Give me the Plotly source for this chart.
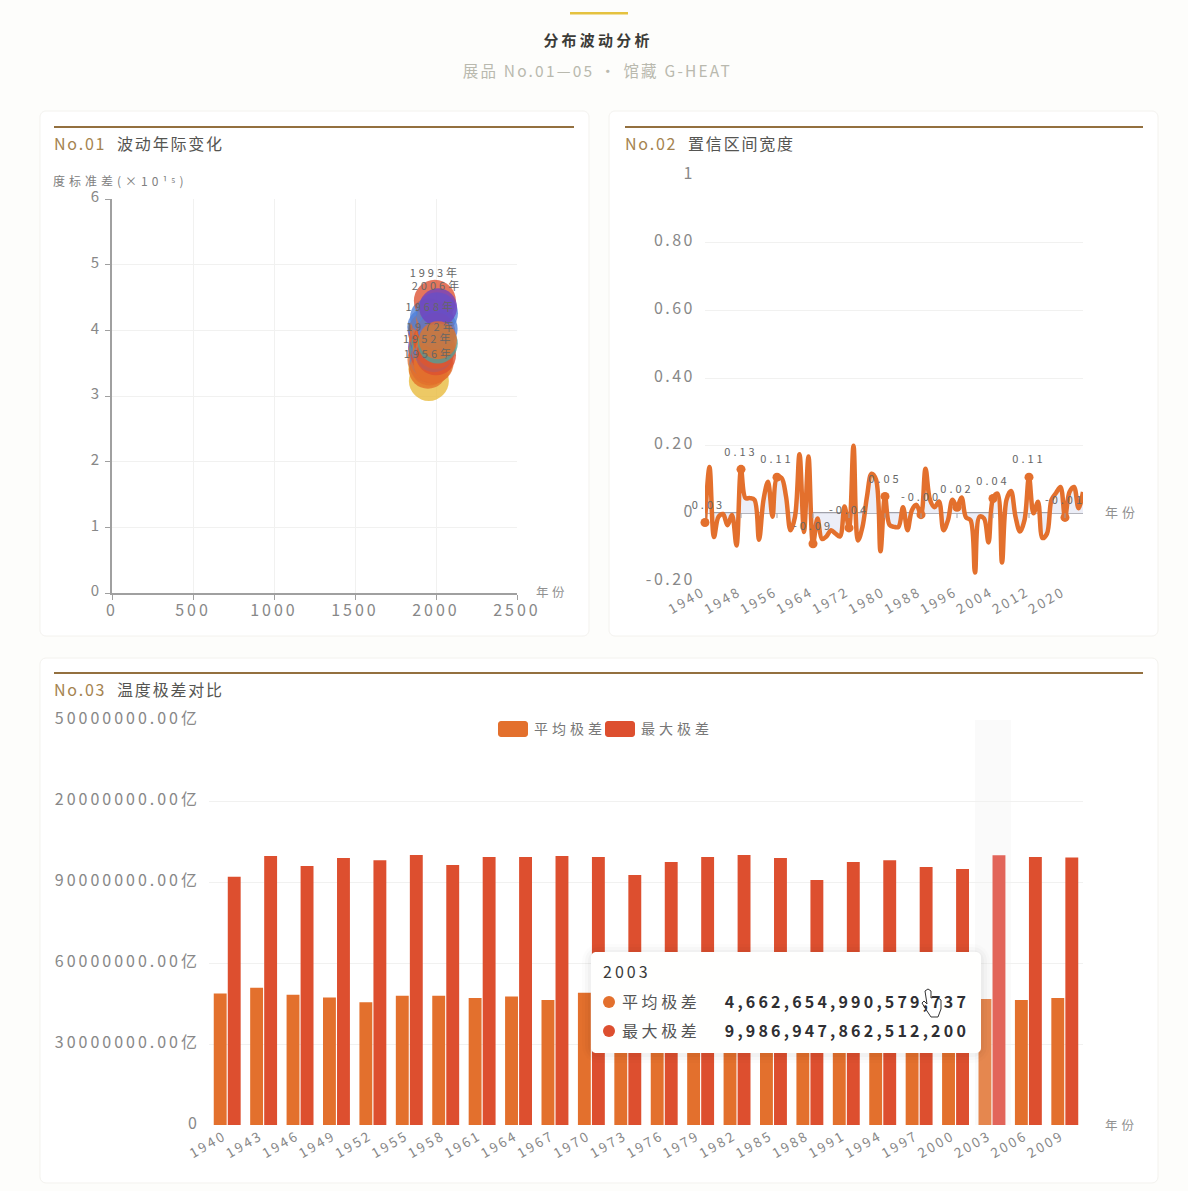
import json
import plotly.graph_objects as go

W, H = 1188, 1191
FONT = "Noto Sans CJK SC"

# ---------- No.01 bubbles (draw order) ----------
bubble_years = [1941, 1943, 1945, 1940, 1947, 1956, 1944, 1946, 1948, 1952, 1949, 1951, 1954, 1950, 1953, 1958,
                1960, 1962, 1964, 1955, 1966, 1968, 1970, 1957, 1972, 1975, 1978, 1980, 1982, 1985, 1988, 1990,
                1993, 1995, 2006, 2002, 1998, 2000, 2010, 2013, 2011, 2012]
bubble_std = [3.55, 3.98, 3.75, 4.05, 3.42, 3.23, 3.85, 3.68, 3.95, 3.49, 4.02, 3.72, 3.5, 3.4, 3.82, 3.55,
              3.45, 3.62, 3.7, 3.9, 3.8, 3.97, 3.95, 4.2, 3.67, 3.85, 3.6, 3.55, 3.48, 3.5, 3.65, 3.92,
              4.45, 4.15, 4.26, 3.98, 3.72, 3.62, 4.02, 4.35, 3.8, 3.85]
bubble_sizes = [38, 38, 38, 38, 38, 40, 36, 38, 36, 38, 36, 38, 38, 38, 36, 38,
                38, 38, 38, 38, 38, 38, 38, 38, 38, 38, 38, 38, 38, 40, 38, 38,
                42, 38, 42, 38, 40, 40, 40, 38, 40, 38]
OR, RD, YL, BL, PU, TE = "#E3702D", "#DD4F2F", "#E8BA3A", "#4F80D9", "#7040C0", "#4FA09A"
bubble_colors = [OR, RD, PU, BL, YL, YL, OR, RD, PU, BL, OR, TE, OR, OR, PU, BL,
                 OR, RD, BL, OR, TE, BL, OR, BL, OR, RD, BL, OR, OR, OR, BL, OR,
                 RD, OR, BL, RD, OR, RD, BL, PU, TE, OR]
bubble_labelled = [1952, 1956, 1968, 1972, 1993, 2006]

x1_ticks = [0, 500, 1000, 1500, 2000, 2500]
y1_ticks = [0, 1, 2, 3, 4, 5, 6]

# ---------- No.02 line ----------
years2 = list(range(1940, 2025))
width_vals = [-0.027, 0.137, -0.07, -0.01, -0.002, -0.035, -0.005, -0.095, 0.13, 0.045,
              0.045, 0.04, -0.078, 0.04, 0.093, -0.01, 0.107, 0.105, 0.05, -0.05,
              -0.01, 0.175, -0.055, 0.168, -0.09, -0.015, -0.076, -0.068, -0.05, -0.06,
              -0.068, 0.02, -0.043, 0.2, -0.08, -0.04, 0.05, 0.117, 0.1, -0.112,
              0.05, -0.034, -0.04, -0.04, 0.018, -0.05, 0.01, 0.025, -0.004, 0.132,
              0.04, 0.018, 0.035, -0.05, -0.02, 0.04, 0.018, 0.047, -0.012, -0.02,
              -0.175, -0.01, -0.015, -0.086, 0.044, 0.058, -0.145, 0.04, 0.066, -0.01,
              -0.054, -0.02, 0.107, 0.0, 0.034, -0.073, -0.06, 0.04, 0.06, 0.078,
              -0.012, 0.063, 0.078, 0.015, 0.063]
label_years2 = list(range(1940, 2021, 8))
y2_ticks = [-0.2, 0, 0.2, 0.4, 0.6, 0.8, 1]
y2_labels = ["-0.20", "0", "0.20", "0.40", "0.60", "0.80", "1"]

# ---------- No.03 bars (in 亿) ----------
years3 = [str(y) for y in range(1940, 2010, 3)]
avg_range = [48.7, 50.8, 48.2, 47.2, 45.5, 47.9, 47.9, 47.0, 47.6, 46.3, 49.0, 47.0,
             47.5, 47.5, 48.0, 47.5, 47.0, 46.5, 47.0, 46.8, 47.2, 46.63, 46.3, 47.0]
max_range = [91.9, 99.6, 95.9, 98.9, 98.1, 100.0, 96.3, 99.3, 99.3, 99.6, 99.3, 92.6,
             97.4, 99.3, 100.0, 98.9, 90.7, 97.4, 98.1, 95.6, 94.8, 99.87, 99.3, 99.1]
y3_ticks = [0, 30, 60, 90, 120, 150]
y3_labels = ["0", "30000000.00亿", "60000000.00亿", "90000000.00亿", "20000000.00亿", "50000000.00亿"]
highlight_year = "2003"
tip_avg = "4,662,654,990,579,737"
tip_max = "9,986,947,862,512,200"

ORANGE, RED = "#E3702D", "#DD4F2F"
GRID = "#F1F1F0"
TICK = "#888888"
PAGE = "#FDFDFB"


def fx(p): return p / W
def fy(p): return 1 - p / H


def rrect(x0, y0, x1, y1, r):
    k = r * 0.45
    pts = [("M", x0 + r, y0), ("L", x1 - r, y0), ("C", x1 - k, y0, x1, y0 + k, x1, y0 + r),
           ("L", x1, y1 - r), ("C", x1, y1 - k, x1 - k, y1, x1 - r, y1), ("L", x0 + r, y1),
           ("C", x0 + k, y1, x0, y1 - k, x0, y1 - r), ("L", x0, y0 + r), ("C", x0, y0 + k, x0 + k, y0, x0 + r, y0)]
    s = ""
    for p in pts:
        s += p[0] + " " + " ".join(f"{fx(p[i]):.5f},{fy(p[i + 1]):.5f}" for i in range(1, len(p), 2)) + " "
    return s + "Z"


shapes, annos, spacing = [], [], []


def box(x0, y0, x1, y1, r, fill, line=None, layer="below", lw=1):
    shapes.append(dict(type="path", xref="paper", yref="paper", path=rrect(x0, y0, x1, y1, r), fillcolor=fill,
                       line=dict(color=line or "rgba(0,0,0,0)", width=lw if line else 0), layer=layer))


def rule(x0, y0, x1, y1, color):
    shapes.append(dict(type="rect", xref="paper", yref="paper", x0=fx(x0), x1=fx(x1), y0=fy(y1), y1=fy(y0),
                       fillcolor=color, line=dict(width=0), layer="below"))


def text(x, y, s, size=14, color="#808080", anchor="left", bold=False, ls=1.2):
    spacing.append(ls)
    off = -2 if anchor == "left" else (2 if anchor == "right" else 0)
    annos.append(dict(xref="paper", yref="paper", x=fx(x + off), y=fy(y - 1), text=f"<b>{s}</b>" if bold else s, showarrow=False,
                      xanchor=anchor, yanchor="middle", align=anchor, font=dict(family=FONT, size=size, color=color)))


# page furniture
rule(570, 12, 628, 14.5, "#E5C23F")
text(597.5, 40, "分布波动分析", 15, "#3C3C38", "center", True, 3.2)
text(597.5, 71, "展品 No.01—05 · 馆藏 G-HEAT", 15.5, "#B9B9AE", "center", False, 2.2)
for c in [(40, 111, 589, 636), (609, 111, 1158, 636), (40, 658, 1158, 1183)]:
    box(*c, 6, "#FFFFFF", "#F3F2EE")
BRN = "#93703F"
rule(54, 126, 574, 128, BRN)
rule(625, 126, 1143, 128, BRN)
rule(54, 672, 1143, 674, BRN)
for x, y, no, t in [(54, 144, "No.01", "波动年际变化"), (625, 144, "No.02", "置信区间宽度"), (54, 690, "No.03", "温度极差对比")]:
    text(x, y, f'<span style="color:#A5834F">{no}</span>  {t}', 16, "#555552", ls=1.8)

text(53, 181, "度标准差(×10¹⁵)", 12, "#808080", ls=4)
text(536, 592, "年份", 12.5, "#909090", ls=3.5)
text(1105, 512, "年份", 13, "#909090", ls=4)
text(1105, 1125, "年份", 12.5, "#909090", ls=4)

# legend of No.03
box(498, 721, 528, 737, 3, ORANGE)
text(534, 729, "平均极差", 14, "#777777", ls=4)
box(605, 721, 635, 737, 3, RED)
text(641, 729, "最大极差", 14, "#777777", ls=4)

# hover band
shapes.append(dict(type="rect", xref="paper", yref="paper", x0=fx(975), x1=fx(1011), y0=fy(1125), y1=fy(720),
                   fillcolor="rgba(150,150,150,0.05)", line=dict(width=0), layer="below"))

fig = go.Figure()

# No.01
fig.add_trace(go.Scatter(x=bubble_years, y=bubble_std, mode="markers", xaxis="x", yaxis="y",
                         marker=dict(size=bubble_sizes, color=bubble_colors, opacity=0.78, line=dict(width=0)),
                         hoverinfo="x+y", showlegend=False))
fig.add_trace(go.Scatter(x=bubble_years, y=bubble_std, mode="markers+text", xaxis="x", yaxis="y",
                         text=[f"{y}年" if y in bubble_labelled else "" for y in bubble_years],
                         textposition="top center", textfont=dict(family=FONT, size=11, color="#666666"),
                         marker=dict(size=[s - 10 for s in bubble_sizes], opacity=0), hoverinfo="skip",
                         showlegend=False, cliponaxis=False))

# No.02
fig.add_trace(go.Scatter(x=years2, y=width_vals, mode="lines", xaxis="x2", yaxis="y2",
                         line=dict(color=ORANGE, width=4.5, shape="spline", smoothing=1.0),
                         fill="tozeroy", fillcolor="#ECEEF7", showlegend=False))
lab_vals = [width_vals[years2.index(y)] for y in label_years2]
fig.add_trace(go.Scatter(x=label_years2, y=lab_vals, mode="markers", xaxis="x2", yaxis="y2",
                         marker=dict(size=9, color=ORANGE), showlegend=False, cliponaxis=False))
fig.add_trace(go.Scatter(x=label_years2, y=lab_vals, mode="markers+text", xaxis="x2", yaxis="y2",
                         text=[f"{v:.2f}" for v in lab_vals], textposition="top center",
                         textfont=dict(family=FONT, size=11, color="#666666"), hoverinfo="skip",
                         marker=dict(size=16, opacity=0), showlegend=False, cliponaxis=False))
for y in label_years2:
    shapes.append(dict(type="line", xref="x2", yref="y2", x0=y, x1=y, y0=0, y1=-0.014,
                       line=dict(color="#A0A0A8", width=1), layer="above"))

# No.03
fig.add_trace(go.Bar(x=years3, y=avg_range, name="平均极差", xaxis="x3", yaxis="y3", showlegend=False,
                     marker=dict(color=["#E5874F" if y == highlight_year else ORANGE for y in years3], line=dict(width=0))))
fig.add_trace(go.Bar(x=years3, y=max_range, name="最大极差", xaxis="x3", yaxis="y3", showlegend=False,
                     marker=dict(color=["#E2655A" if y == highlight_year else RED for y in years3], line=dict(width=0))))

# tooltip
for i, a in [(9, 0.012), (6, 0.018), (3, 0.025)]:
    box(591 - i, 952 - i + 1, 981 + i, 1053 + i + 1, 8 + i, f"rgba(0,0,0,{a})", layer="above")
box(591, 952, 981, 1053, 5, "#FFFFFE", layer="above")
text(603, 972, "2003", 16, "#3A3A3A", ls=3)
for y, c, n, v in [(1002, ORANGE, "平均极差", tip_avg), (1031, RED, "最大极差", tip_max)]:
    shapes.append(dict(type="circle", xref="paper", yref="paper", x0=fx(603), x1=fx(615), y0=fy(y + 6), y1=fy(y - 6),
                       fillcolor=c, line=dict(width=0), layer="above"))
    text(622, y, n, 16, "#555555", ls=3.6)
    text(969, y, v, 16, "#2F2F33", "right", True, 3.2)

# hand cursor
hand = [(925, 991), (928, 989), (931, 991), (931, 998), (935, 997), (938, 998), (941, 1000), (941, 1009), (938, 1017),
        (931, 1017), (925, 1008), (922, 1003), (924, 1001), (927, 1004)]
shapes.append(dict(type="path", xref="paper", yref="paper", layer="above",
                   path="M " + " L ".join(f"{fx(a):.5f},{fy(b):.5f}" for a, b in hand) + " Z",
                   fillcolor="#FFFFFF", line=dict(color="#333333", width=1)))


def tf(size=14): return dict(family=FONT, size=size, color=TICK)


fig.update_layout(
    width=W, height=H, margin=dict(l=0, r=0, t=0, b=0, autoexpand=False), autosize=False,
    paper_bgcolor=PAGE, plot_bgcolor="rgba(0,0,0,0)",
    barmode="group", bargap=0.23, bargroupgap=0.08, hovermode="closest", showlegend=False,
    shapes=shapes, annotations=annos, font=dict(family=FONT),
    xaxis=dict(domain=[fx(112), fx(517)], range=[0, 2500], tickvals=x1_ticks, anchor="y", showgrid=True, gridcolor=GRID,
               showline=True, linecolor="#A0A0A0", linewidth=2, ticks="outside", ticklen=5, tickcolor="#A0A0A0",
               tickfont=tf(16), zeroline=False, automargin=False, ticklabelstandoff=-3),
    yaxis=dict(domain=[fy(593), fy(199)], range=[0, 6], tickvals=y1_ticks, anchor="x", showgrid=True, gridcolor=GRID,
               showline=True, linecolor="#A0A0A0", linewidth=2, ticks="outside", ticklen=5, tickcolor="#A0A0A0",
               tickfont=tf(15), zeroline=False, automargin=False, ticklabelshift=-2),
    xaxis2=dict(domain=[fx(705), fx(1083)], range=[1940, 2024], tickvals=label_years2, tickangle=-30, anchor="y2",
                showgrid=False, showline=False, tickfont=tf(13.5), ticks="", zeroline=False, automargin=False, ticklabelshift=-2),
    yaxis2=dict(domain=[fy(581), fy(175)], range=[-0.2, 1], tickvals=y2_ticks, ticktext=y2_labels, anchor="x2",
                showgrid=True, gridcolor=GRID, showline=False, zeroline=True, zerolinecolor="#A0A0A8", zerolinewidth=2,
                tickfont=tf(16), ticks="", automargin=False, ticklabelstandoff=9, ticklabelshift=-2),
    xaxis3=dict(domain=[fx(209), fx(1083)], type="category", categoryorder="array", categoryarray=years3,
                tickangle=-30, anchor="y3", showgrid=False, showline=False, tickfont=tf(13.5), ticks="", zeroline=False,
                automargin=False, ticklabelshift=-3),
    yaxis3=dict(domain=[fy(1125), fy(720)], range=[0, 150], tickvals=y3_ticks, ticktext=y3_labels, anchor="x3",
                showgrid=True, gridcolor=GRID, showline=False, zeroline=False, tickfont=tf(16), ticks="", automargin=False,
                ticklabelstandoff=8, ticklabelshift=-2),
)

post = """
document.body.style.margin='0';
document.documentElement.style.overflow='hidden';
document.body.style.background='%s';
var SP=%s;
function ls(){
  document.querySelectorAll('.xtick text, .ytick text').forEach(t=>t.style.letterSpacing='3px');
  document.querySelectorAll('.x2tick text, .x3tick text').forEach(t=>t.style.letterSpacing='2.5px');
  document.querySelectorAll('.y2tick text').forEach(t=>t.style.letterSpacing='2.5px');
  document.querySelectorAll('.y3tick text').forEach(t=>t.style.letterSpacing='3px');
  SP.forEach(function(s,i){document.querySelectorAll('.annotation[data-index="'+i+'"] text').forEach(t=>t.style.letterSpacing=s+'px');});
  document.querySelectorAll('.textpoint text').forEach(t=>t.style.letterSpacing='3px');
}
ls(); setTimeout(ls,50); setTimeout(ls,400);
""" % (PAGE, json.dumps(spacing))
fig.write_html("out.html", post_script=post, config={"displayModeBar": False})
